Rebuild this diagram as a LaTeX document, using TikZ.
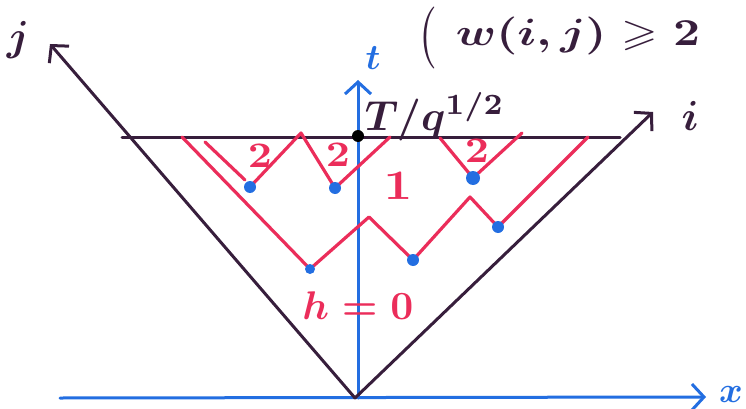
\documentclass[tikz,border=0pt]{standalone}
\usepackage{amssymb}
\usetikzlibrary{arrows.meta}
\definecolor{pen}{RGB}{55,30,60}
\definecolor{rd}{RGB}{235,45,90}
\definecolor{bl}{RGB}{35,110,225}
\begin{document}
\begin{tikzpicture}[x=1pt,y=-1pt,
  axis/.style={line width=3pt,draw=pen,line cap=round},
  baxis/.style={line width=3pt,draw=bl,line cap=round},
  barb/.style={-{Straight Barb[length=12pt,width=26pt,line width=3pt]}},
  redpath/.style={line width=3.2pt,draw=rd,line join=round,line cap=round},
  bdot/.style={circle,fill=bl,inner sep=0pt,minimum size=12pt},
  kdot/.style={circle,fill=black,inner sep=0pt,minimum size=12pt},
  lab/.style={inner sep=0pt,font=\boldmath},
  rlab/.style={inner sep=0pt,text=rd,font=\boldmath}]
\useasboundingbox (0,0) rectangle (746,409);
% axes points
\coordinate (O) at (355,398);
\coordinate (xs) at (60,398);
\coordinate (xe) at (706,397);
\coordinate (tb) at (358,398);
\coordinate (tt) at (358,80);
\coordinate (jt) at (50,44);
\coordinate (it) at (653,112);
\coordinate (hl) at (122,137);
\coordinate (hr) at (620,137);
% axes
\draw[baxis,barb] (xs) -- (xe);
\draw[baxis,barb] (tb) -- (tt);
\draw[axis,barb] (O) -- (jt);
\draw[axis,barb] (O) -- (it);
\draw[axis] (hl) -- (hr);
\node[kdot] (T) at (358,136) {};
% labels
\node[lab,text=bl,scale=3.6] (tl) at (373,58) {$t$};
\node[lab,text=pen,scale=4.2] (jl) at (18,40) {$j$};
\node[lab,text=pen,scale=4.2] (il) at (690,116) {$i$};
\node[lab,text=bl,scale=3.6] (xl) at (731,394) {$x$};
\node[lab,text=pen,scale=4.2,anchor=base west] (Tl) at (364,130) {$T/q^{1/2}$};
\node[lab,text=pen,xscale=4.6,yscale=6.2] (par) at (428,38) {(};
\node[lab,text=pen,xscale=4.7,yscale=3.8,anchor=west] (wl) at (455,36) {$w(i,j)\geqslant 2$};
% red paths
\coordinate (a0) at (182,137);
\coordinate (a1) at (310,269);
\coordinate (a2) at (369,217);
\coordinate (a3) at (413,260);
\coordinate (a4) at (470,197);
\coordinate (a5) at (498,227);
\coordinate (a6) at (588,137);
\draw[redpath] (a0) -- (a1) -- (a2) -- (a3) -- (a4) -- (a5) -- (a6);
\coordinate (b0) at (205,142);
\coordinate (b1) at (245,180);
\draw[redpath] (b0) -- (b1);
\coordinate (c0) at (250,187);
\coordinate (c1) at (301,133);
\coordinate (c2) at (335,188);
\coordinate (c3) at (390,137);
\draw[redpath] (c0) -- (c1) -- (c2) -- (c3);
\coordinate (d0) at (440,138);
\coordinate (d1) at (473,178);
\coordinate (d2) at (522,133);
\draw[redpath] (d0) -- (d1) -- (d2);
% blue dots
\node[bdot] (p1) at (c0) {};
\node[bdot] (p2) at (c2) {};
\node[bdot,minimum size=14pt] (p3) at (d1) {};
\node[bdot,minimum size=10pt] (p4) at (a1) {};
\node[bdot] (p5) at (a3) {};
\node[bdot] (p6) at (a5) {};
% red labels
\node[rlab,xscale=4.2,yscale=3.6] (n1) at (260,156) {$2$};
\node[rlab,xscale=4.2,yscale=3.6] (n2) at (338,155) {$2$};
\node[rlab,xscale=4.2,yscale=3.6] (n3) at (477,151) {$2$};
\node[rlab,xscale=5,yscale=4.2] (n4) at (398,186) {$1$};
\node[rlab,scale=4] (h0) at (358,306) {$h=0$};
\end{tikzpicture}
\end{document}
